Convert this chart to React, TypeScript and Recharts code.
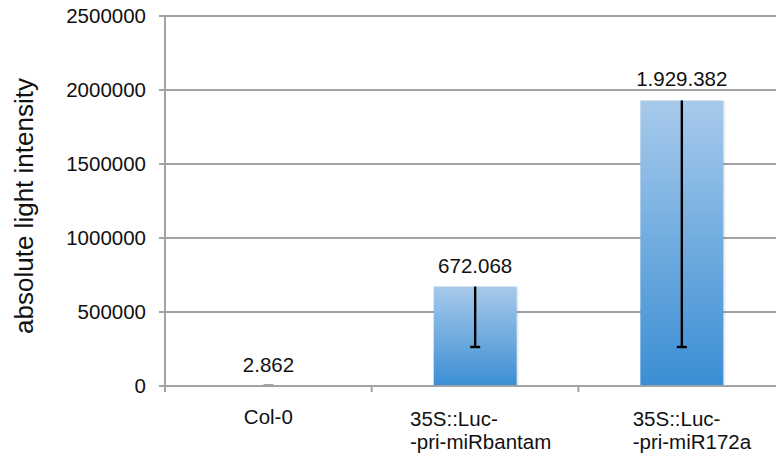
import React from "react";
import { BarChart, Bar, XAxis, YAxis, CartesianGrid, LabelList, ReferenceLine } from "recharts";

const categories = ["Col-0", "35S::Luc-\n-pri-miRbantam", "35S::Luc-\n-pri-miR172a"];
const intensity = [2862, 672068, 1929382];
const errMinus = [1800, 408600, 1665900];
const valueLabels = ["2.862", "672.068", "1.929.382"];
const yTicks = [0, 500000, 1000000, 1500000, 2000000, 2500000];

const data = categories.map((name, i) => ({
  name,
  value: intensity[i],
  err: errMinus[i],
  label: valueLabels[i],
}));

const FONT = "'Liberation Sans', Arial, Helvetica, sans-serif";
const AXIS = "#a0a3a5";

function BarWithError(props: any) {
  const { x, y, width, height, payload } = props;
  const h = Math.max(0, height || 0);
  const ratio = payload.value ? h / payload.value : 0;
  const cx = x + width / 2;
  const bottom = y + payload.err * ratio;
  return (
    <g>
      <rect x={x + 2} y={y + 1} width={width} height={h} fill="rgba(0,0,0,0.08)" />
      <rect x={x} y={y} width={width} height={h} fill="url(#barGrad)" />
      <line x1={cx} y1={y} x2={cx} y2={bottom} stroke="#000" strokeWidth={2.4} />
      <line x1={cx - 5} y1={bottom} x2={cx + 5} y2={bottom} stroke="#000" strokeWidth={2.4} />
    </g>
  );
}

function CatTick(props: any) {
  const { x, y, payload, index } = props;
  const half = payload.offset || 0;
  const lines = String(payload.value).split("\n");
  const longest = Math.max(...lines.map((l) => l.length));
  const start = x - longest * 8 + 47;
  return (
    <g>
      <line x1={x - half} y1={y} x2={x - half} y2={y + 6} stroke={AXIS} strokeWidth={2} />
      {index === categories.length - 1 && (
        <line x1={x + half} y1={y} x2={x + half} y2={y + 6} stroke={AXIS} strokeWidth={2} />
      )}
      {lines.length === 1 ? (
        <text x={x} y={y + 38} textAnchor="middle" fontSize={20.5} fontFamily={FONT} fill="#111">
          {lines[0]}
        </text>
      ) : (
        lines.map((l, i) => (
          <text key={i} x={start} y={y + 40 + i * 23} textAnchor="start" fontSize={20.5} fontFamily={FONT} fill="#111">
            {l}
          </text>
        ))
      )}
    </g>
  );
}

export default function App() {
  return (
    <div style={{ position: "absolute", left: 0, top: 0, width: 776, height: 459, overflow: "hidden", background: "#fff" }}>
      <BarChart
        width={785}
        height={459}
        data={data}
        margin={{ top: 16, right: 0, left: 0, bottom: 0 }}
      >
        <defs>
          <linearGradient id="barGrad" x1="0" y1="0" x2="0" y2="1">
            <stop offset="0%" stopColor="#a7caeb" />
            <stop offset="100%" stopColor="#3b8ed4" />
          </linearGradient>
        </defs>
        <CartesianGrid vertical={false} stroke={AXIS} strokeWidth={2} />
        <XAxis
          dataKey="name"
          height={73}
          interval={0}
          tickSize={0}
          tickMargin={0}
          axisLine={{ stroke: AXIS, strokeWidth: 2 }}
          tickLine={false}
          tick={<CatTick />}
        />
        <YAxis
          width={165}
          domain={[0, 2500000]}
          ticks={yTicks}
          interval={0}
          tickSize={6}
          tickMargin={13}
          axisLine={{ stroke: AXIS, strokeWidth: 2 }}
          tickLine={{ stroke: AXIS, strokeWidth: 2 }}
          tick={{ fontSize: 20.5, fill: "#111", fontFamily: FONT }}
          label={{
            content: (p: any) => {
              const vb = p.viewBox || {};
              const cx = vb.x + 24;
              const cy = vb.y + vb.height / 2 + 5;
              return (
                <text
                  x={cx}
                  y={cy}
                  transform={`rotate(-90, ${cx}, ${cy})`}
                  textAnchor="middle"
                  dominantBaseline="central"
                  fontSize={26}
                  fontFamily={FONT}
                  fill="#111"
                >
                  absolute light intensity
                </text>
              );
            },
          }}
        />
        <ReferenceLine y={0} stroke={AXIS} strokeWidth={2} ifOverflow="visible" />
        <Bar dataKey="value" barSize={83} shape={<BarWithError />} isAnimationActive={false}>
          <LabelList
            dataKey="label"
            position="top"
            offset={14}
            style={{ fontSize: 20.5, fill: "#111", fontFamily: FONT }}
          />
        </Bar>
      </BarChart>
    </div>
  );
}
